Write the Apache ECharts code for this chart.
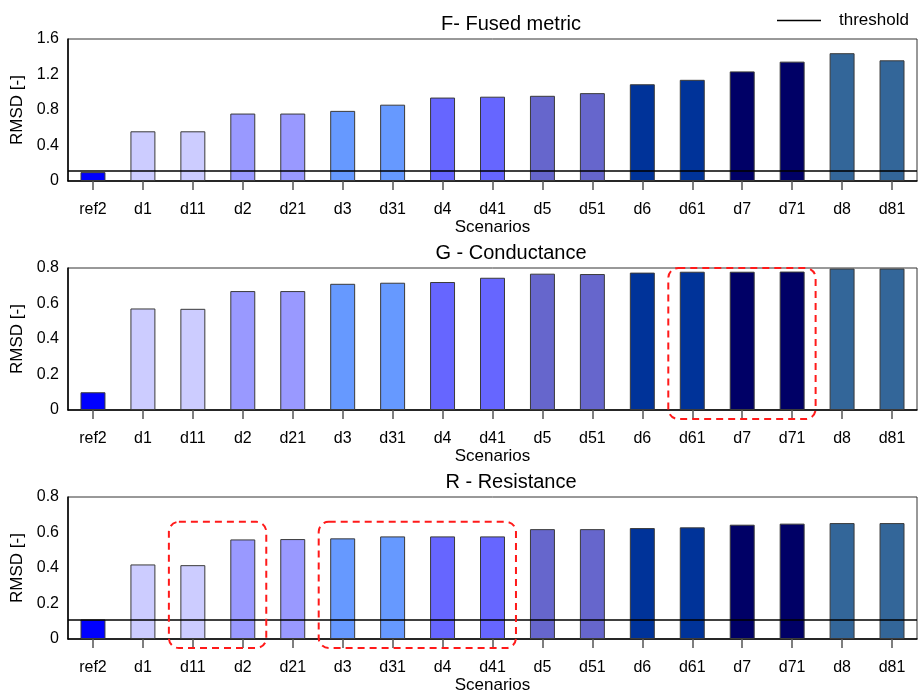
<!DOCTYPE html>
<html>
<head>
<meta charset="utf-8">
<script src="https://cdn.jsdelivr.net/npm/echarts@6/dist/echarts.min.js"></script>
<style>
  html, body { margin: 0; padding: 0; background: #fff; }
  #chart { width: 919px; height: 695px; }
</style>
</head>
<body>
<div id="chart"></div>
<script>
// Scenario categories shared by the three panels
const categories = ['ref2', 'd1', 'd11', 'd2', 'd21', 'd3', 'd31', 'd4', 'd41', 'd5', 'd51', 'd6', 'd61', 'd7', 'd71', 'd8', 'd81'];

// RMSD per scenario
const fusedValues       = [0.10, 0.56, 0.56, 0.76, 0.76, 0.79, 0.86, 0.94, 0.95, 0.96, 0.99, 1.09, 1.14, 1.235, 1.345, 1.44, 1.36];
const conductanceValues = [0.10, 0.572, 0.57, 0.67, 0.67, 0.711, 0.717, 0.721, 0.745, 0.768, 0.766, 0.774, 0.779, 0.779, 0.78, 0.797, 0.797];
const resistanceValues  = [0.11, 0.42, 0.416, 0.561, 0.563, 0.567, 0.578, 0.578, 0.578, 0.619, 0.619, 0.625, 0.629, 0.644, 0.65, 0.653, 0.653];

// Acceptance threshold drawn on the fused and resistance panels
const threshold = 0.11;

// Y-axis ticks
const fusedTicks = [0, 0.4, 0.8, 1.2, 1.6];
const unitTicks = [0, 0.2, 0.4, 0.6, 0.8];

// Panel titles
const panelTitles = ['F- Fused metric', 'G - Conductance', 'R - Resistance'];

// Bar fill per scenario
const palette = ['#0000FF', '#CCCCFF', '#CCCCFF', '#9999FF', '#9999FF', '#6699FF', '#6699FF', '#6666FF', '#6666FF',
                 '#6666CC', '#6666CC', '#003399', '#003399', '#000066', '#000066', '#336699', '#336699'];

// Highlighted scenario groups: [panel, first scenario, last scenario]
const highlightGroups = [[1, 'd61', 'd71'], [2, 'd11', 'd2'], [2, 'd3', 'd41']];

const FONT = '"Liberation Sans", Arial, sans-serif';
const panels = [
  { values: fusedValues, ticks: fusedTicks, showThreshold: true },
  { values: conductanceValues, ticks: unitTicks, showThreshold: false },
  { values: resistanceValues, ticks: unitTicks, showThreshold: true }
];
const gridTops = [39, 268, 497];
const GRID_H = 142;

const chart = echarts.init(document.getElementById('chart'), null, { renderer: 'canvas' });

const grids = [], xAxes = [], yAxes = [], series = [], titles = [];
panels.forEach((p, i) => {
  grids.push({
    left: 68, right: 2, top: gridTops[i], height: GRID_H,
    show: true, borderColor: '#333', borderWidth: 1, backgroundColor: 'transparent'
  });
  titles.push({
    text: panelTitles[i], left: 506, top: gridTops[i] - 30, textAlign: 'center',
    textStyle: { fontFamily: FONT, fontSize: 20, fontWeight: 'normal', color: '#000' }
  });
  xAxes.push({
    type: 'category', gridIndex: i, data: categories,
    name: 'Scenarios', nameLocation: 'middle', nameGap: 37,
    nameTextStyle: { fontFamily: FONT, fontSize: 17, color: '#000' },
    axisLine: { lineStyle: { color: '#000', width: 1.5 } },
    axisTick: { show: true, alignWithLabel: true, length: 9, lineStyle: { color: '#555', width: 1.5 } },
    axisLabel: { fontFamily: FONT, fontSize: 16, color: '#000', margin: 21, interval: 0 },
    splitLine: { show: false }
  });
  const t = p.ticks;
  yAxes.push({
    type: 'value', gridIndex: i, min: t[0], max: t[t.length - 1], interval: t[1] - t[0],
    name: 'RMSD [-]', nameLocation: 'middle', nameGap: 37, nameRotate: 90,
    nameTextStyle: { fontFamily: FONT, fontSize: 17, color: '#000' },
    axisLine: { show: true, lineStyle: { color: '#000', width: 1.5 } },
    axisTick: { show: false },
    axisLabel: { fontFamily: FONT, fontSize: 16, color: '#000', margin: 9 },
    splitLine: { show: false }
  });
  series.push({
    type: 'bar', xAxisIndex: i, yAxisIndex: i, barWidth: '50%',
    data: p.values,
    itemStyle: {
      color: (params) => palette[params.dataIndex],
      borderColor: '#3a3a3a', borderWidth: 1
    },
    emphasis: { disabled: true },
    z: 2
  });
  if (p.showThreshold) {
    series.push({
      type: 'line', name: 'threshold', xAxisIndex: i, yAxisIndex: i, data: [],
      itemStyle: { color: '#000' }, lineStyle: { color: '#000' },
      markLine: {
        silent: true, symbol: 'none', label: { show: false },
        lineStyle: { color: '#000', width: 1.5, type: 'solid' },
        data: [{ yAxis: threshold }]
      },
      z: 3
    });
  }
});

chart.setOption({
  animation: false,
  backgroundColor: '#fff',
  title: titles,
  legend: {
    data: [{ name: 'threshold', icon: 'rect' }],
    left: 772, top: 7,
    itemWidth: 44, itemHeight: 1.5, itemGap: 0,
    textStyle: { fontFamily: FONT, fontSize: 17, color: '#000', padding: [0, 0, 0, 13] },
    selectedMode: false
  },
  grid: grids,
  xAxis: xAxes,
  yAxis: yAxes,
  series: series
});

// Dashed rounded boxes around highlighted scenario groups
function drawHighlights() {
  const elems = highlightGroups.map(([panel, first, last]) => {
    const x0 = chart.convertToPixel({ xAxisIndex: panel }, first);
    const x1 = chart.convertToPixel({ xAxisIndex: panel }, last);
    const band = chart.convertToPixel({ xAxisIndex: panel }, categories[1]) -
                 chart.convertToPixel({ xAxisIndex: panel }, categories[0]);
    const yMax = panels[panel].ticks[panels[panel].ticks.length - 1];
    const top = panel === 1 ? chart.convertToPixel({ yAxisIndex: panel }, yMax)
                            : chart.convertToPixel({ yAxisIndex: panel }, 0.66);
    const bottom = chart.convertToPixel({ yAxisIndex: panel }, 0) + 9;
    const left = x0 - band * 0.48;
    const right = x1 + band * 0.47;
    return {
      type: 'rect', silent: true, z: 10,
      shape: { x: left, y: top, width: right - left, height: bottom - top, r: 10 },
      style: { fill: 'none', stroke: '#FF1a1a', lineWidth: 2, lineDash: [7, 5] }
    };
  });
  chart.setOption({ graphic: elems });
}
drawHighlights();
</script>
</body>
</html>
